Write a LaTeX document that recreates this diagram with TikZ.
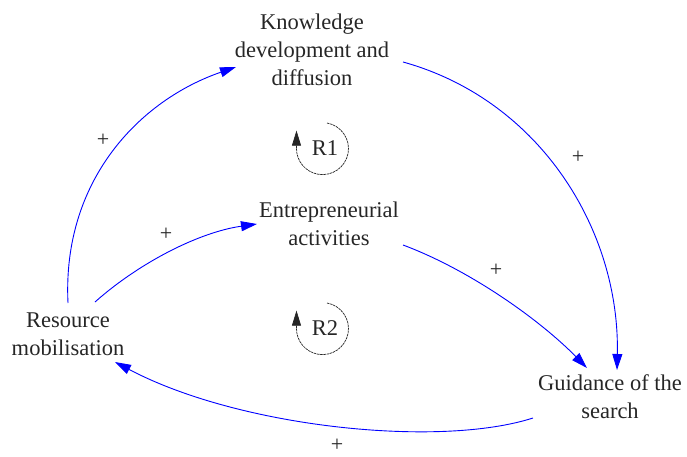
\documentclass[tikz,border=0pt]{standalone}
\usepackage{fontspec}
\setmainfont{Liberation Serif}
\newfontfamily\tnr{Liberation Serif}
\usetikzlibrary{arrows.meta}
\begin{document}
\begin{tikzpicture}[x=1pt,y=-1pt,
  lbl/.style={font=\tnr\fontsize{22.5}{28}\selectfont, align=center, inner sep=0pt, text=black!85},
  plus/.style={font=\tnr\fontsize{22}{24}\selectfont, inner sep=0pt, text=black!85},
  link/.style={draw=blue, line width=0.9pt, -{Triangle[length=16pt,width=10pt]}},
  loopline/.style={draw=black!85, line width=0.7pt, dash pattern=on 2.5pt off 0.7pt, -{Triangle[length=15pt,width=9pt]}}]
\useasboundingbox (0,0) rectangle (687,457);
\node[lbl] (kdd) at (312,50) {Knowledge\\development and\\diffusion};
\node[lbl] (ea) at (329,224) {Entrepreneurial\\activities};
\node[lbl] (rm) at (68,334) {Resource\\mobilisation};
\node[lbl] (gs) at (610,397) {Guidance of the\\search};
\node[lbl] (r1) at (325,148) {R1};
\node[lbl] (r2) at (325,328) {R2};
\coordinate (a1s) at (68,303);
\coordinate (a1e) at (236,67);
\coordinate (a2s) at (403,62);
\coordinate (a2e) at (617,370);
\coordinate (a3s) at (95,302);
\coordinate (a3e) at (257,224);
\coordinate (a4s) at (403,245);
\coordinate (a4e) at (587,368);
\coordinate (a5s) at (533,418);
\coordinate (a5e) at (115,362);
\draw[link] (a1s) .. controls (62,180) and (140,100) .. (a1e);
\draw[link] (a2s) .. controls (540,100) and (620,230) .. (a2e);
\draw[link] (a3s) .. controls (140,262) and (200,232) .. (a3e);
\draw[link] (a4s) .. controls (470,270) and (540,320) .. (a4e);
\draw[link] (a5s) .. controls (440,448) and (240,428) .. (a5e);
\node[plus] (p1) at (103,140) {+};
\node[plus] (p2) at (578,157) {+};
\node[plus] (p3) at (166,234) {+};
\node[plus] (p4) at (496,270) {+};
\node[plus] (p5) at (337,445) {+};
\draw[loopline] (r1.center) ++(2,-25) arc[start angle=-80, end angle=180, radius=26] -- ++(0,-18);
\draw[loopline] (r2.center) ++(2,-25) arc[start angle=-80, end angle=180, radius=26] -- ++(0,-18);
\end{tikzpicture}
\end{document}
